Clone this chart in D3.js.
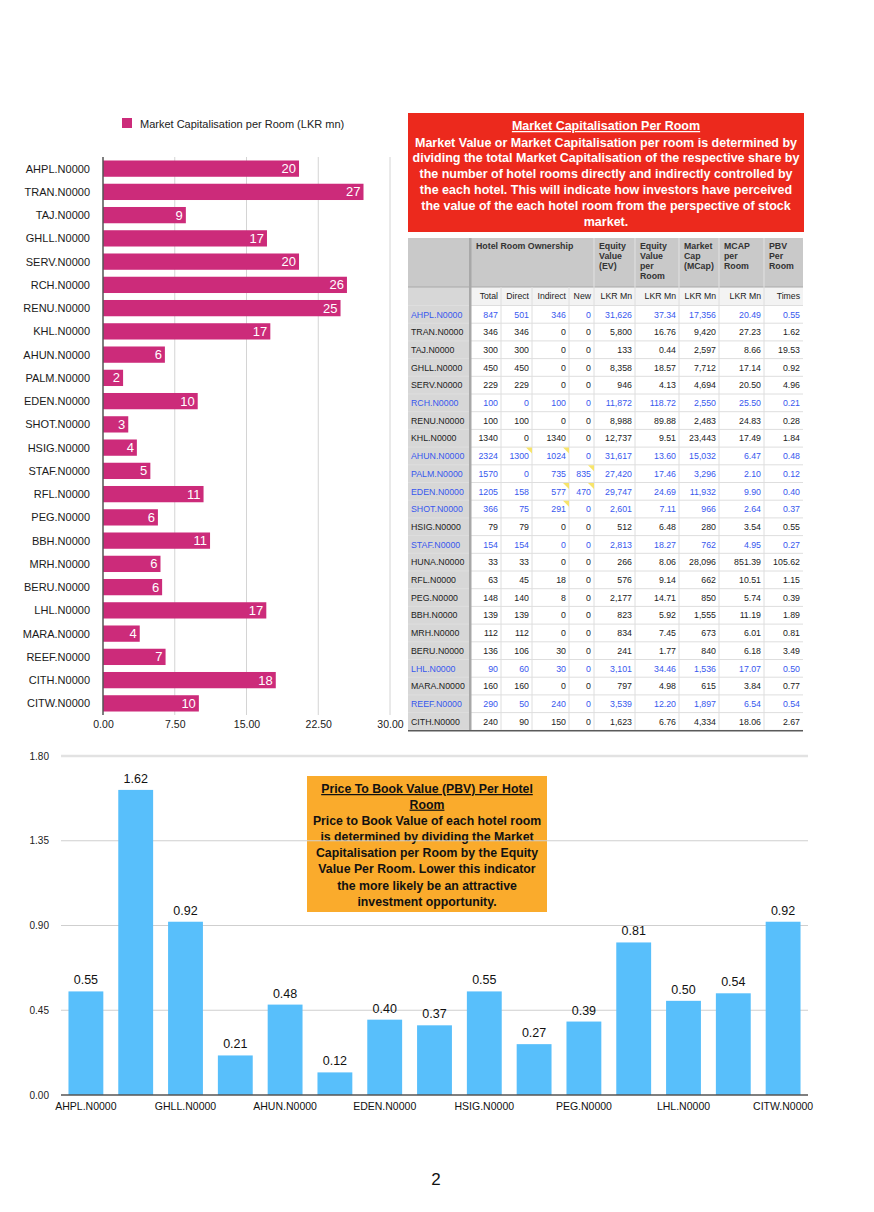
<!DOCTYPE html>
<html><head><meta charset="utf-8">
<script src="https://cdn.jsdelivr.net/npm/d3@7"></script>
<style>
html,body{margin:0;padding:0;background:#fff;}
svg{display:block;font-family:"Liberation Sans",Arial,Helvetica,sans-serif;}
</style></head>
<body>
<svg id="c" width="874" height="1212"></svg>
<script>
// ---------- DATA ----------
const mcapTickers = ["AHPL.N0000","TRAN.N0000","TAJ.N0000","GHLL.N0000","SERV.N0000","RCH.N0000","RENU.N0000","KHL.N0000","AHUN.N0000","PALM.N0000","EDEN.N0000","SHOT.N0000","HSIG.N0000","STAF.N0000","RFL.N0000","PEG.N0000","BBH.N0000","MRH.N0000","BERU.N0000","LHL.N0000","MARA.N0000","REEF.N0000","CITH.N0000","CITW.N0000"];
const mcapValues = [20.49,27.23,8.66,17.14,20.49,25.50,24.83,17.49,6.47,2.10,9.90,2.64,3.54,4.95,10.51,5.74,11.19,6.01,6.18,17.07,3.84,6.54,18.06,10.02];
const mcapTicks = [0,7.5,15,22.5,30];
const mcapLegend = "Market Capitalisation per Room (LKR mn)";

const pbvTickers = ["AHPL.N0000","TRAN.N0000","GHLL.N0000","RCH.N0000","AHUN.N0000","PALM.N0000","EDEN.N0000","SHOT.N0000","HSIG.N0000","STAF.N0000","PEG.N0000","MRH.N0000","LHL.N0000","REEF.N0000","CITW.N0000"];
const pbvValues = [0.55,1.62,0.92,0.21,0.48,0.12,0.40,0.37,0.55,0.27,0.39,0.81,0.50,0.54,0.92];
const pbvTicks = [0,0.45,0.90,1.35,1.80];

const tableTickers = ["AHPL.N0000","TRAN.N0000","TAJ.N0000","GHLL.N0000","SERV.N0000","RCH.N0000","RENU.N0000","KHL.N0000","AHUN.N0000","PALM.N0000","EDEN.N0000","SHOT.N0000","HSIG.N0000","STAF.N0000","HUNA.N0000","RFL.N0000","PEG.N0000","BBH.N0000","MRH.N0000","BERU.N0000","LHL.N0000","MARA.N0000","REEF.N0000","CITH.N0000"];
const totalRooms    = [847,346,300,450,229,100,100,1340,2324,1570,1205,366,79,154,33,63,148,139,112,136,90,160,290,240];
const directRooms   = [501,346,300,450,229,0,100,0,1300,0,158,75,79,154,33,45,140,139,112,106,60,160,50,90];
const indirectRooms = [346,0,0,0,0,100,0,1340,1024,735,577,291,0,0,0,18,8,0,0,30,30,0,240,150];
const newRooms      = [0,0,0,0,0,0,0,0,0,835,470,0,0,0,0,0,0,0,0,0,0,0,0,0];
const equityValue   = [31626,5800,133,8358,946,11872,8988,12737,31617,27420,29747,2601,512,2813,266,576,2177,823,834,241,3101,797,3539,1623];
const evPerRoom     = [37.34,16.76,0.44,18.57,4.13,118.72,89.88,9.51,13.60,17.46,24.69,7.11,6.48,18.27,8.06,9.14,14.71,5.92,7.45,1.77,34.46,4.98,12.20,6.76];
const marketCap     = [17356,9420,2597,7712,4694,2550,2483,23443,15032,3296,11932,966,280,762,28096,662,850,1555,673,840,1536,615,1897,4334];
const mcapPerRoom   = [20.49,27.23,8.66,17.14,20.50,25.50,24.83,17.49,6.47,2.10,9.90,2.64,3.54,4.95,851.39,10.51,5.74,11.19,6.01,6.18,17.07,3.84,6.54,18.06];
const pbvPerRoom    = [0.55,1.62,19.53,0.92,4.96,0.21,0.28,1.84,0.48,0.12,0.40,0.37,0.55,0.27,105.62,1.15,0.39,1.89,0.81,3.49,0.50,0.77,0.54,2.67];
const blueRows      = ["AHPL.N0000","RCH.N0000","AHUN.N0000","PALM.N0000","EDEN.N0000","SHOT.N0000","STAF.N0000","LHL.N0000","REEF.N0000"];
const commentCells  = [["AHUN.N0000",2],["AHUN.N0000",3],["PALM.N0000",4],["EDEN.N0000",3],["EDEN.N0000",4],["SHOT.N0000",3]];
const headerTop   = [["Hotel Room Ownership"],["Equity","Value","(EV)"],["Equity","Value","per","Room"],["Market","Cap","(MCap)"],["MCAP","per","Room"],["PBV","Per","Room"]];
const headerUnits = ["Total","Direct","Indirect","New","LKR Mn","LKR Mn","LKR Mn","LKR Mn","Times"];

const redTitle = "Market Capitalisation Per Room";
const redLines = ["Market Value or Market Capitalisation per room is determined by","dividing the total Market Capitalisation of the respective share by","the number of hotel rooms directly and indirectly controlled by","the each hotel. This will indicate how investors have perceived","the value of the each hotel room from the perspective of stock","market."];
const orangeTitle = ["Price To Book Value (PBV) Per Hotel","Room"];
const orangeLines = ["Price to Book Value of each hotel room","is determined by dividing the Market","Capitalisation per Room by the Equity","Value Per Room. Lower this indicator","the more likely be an attractive","investment opportunity."];
const pageNumber = "2";

// ---------- DRAW ----------
const svg = d3.select("#c");
const MAG = "#cc2b7a", BLUE = "#58bffb", ORANGE = "#faab2c", RED = "#ec291d";

// ===== Top horizontal bar chart =====
const xT = d3.scaleLinear().domain([0,30]).range([103,390]);
const yT = d3.scaleBand().domain(mcapTickers).range([157,715]).paddingInner(0.3).paddingOuter(0.15);
const gT = svg.append("g");
gT.selectAll("line.g").data(mcapTicks.slice(1)).join("line")
  .attr("x1",d=>xT(d)).attr("x2",d=>xT(d)).attr("y1",157).attr("y2",715)
  .attr("stroke","#d4d4d4").attr("stroke-width",1);
gT.selectAll("rect.b").data(mcapValues).join("rect")
  .attr("x",xT(0)).attr("y",(d,i)=>yT(mcapTickers[i]))
  .attr("width",d=>xT(d)-xT(0)).attr("height",yT.bandwidth()).attr("fill",MAG);
gT.selectAll("text.v").data(mcapValues).join("text")
  .attr("x",d=>xT(d)-3).attr("y",(d,i)=>yT(mcapTickers[i])+yT.bandwidth()/2+4.6)
  .attr("text-anchor","end").attr("fill","#fff").attr("font-size",13)
  .text(d=>Math.round(d));
gT.append("line").attr("x1",xT(0)).attr("x2",xT(0)).attr("y1",157).attr("y2",715)
  .attr("stroke","#555").attr("stroke-width",1.5);
gT.selectAll("text.c").data(mcapTickers).join("text")
  .attr("x",90).attr("y",d=>yT(d)+yT.bandwidth()/2+4)
  .attr("text-anchor","end").attr("fill","#1a1a1a").attr("font-size",11).text(d=>d);
const axT = d3.axisBottom(xT).tickValues(mcapTicks).tickFormat(d3.format(".2f")).tickSize(0).tickPadding(0);
const axTG = gT.append("g").attr("transform","translate(0,721)").call(axT);
axTG.select(".domain").remove();
axTG.selectAll("text").attr("font-size",10.5).attr("fill","#1a1a1a").attr("font-family","Liberation Sans, Arial, sans-serif");
gT.append("rect").attr("x",122).attr("y",118).attr("width",10).attr("height",10).attr("fill",MAG);
gT.append("text").attr("x",140).attr("y",128).attr("font-size",11).attr("fill","#222").text(mcapLegend);

// ===== Red description box =====
const gR = svg.append("g");
gR.append("rect").attr("x",408).attr("y",113).attr("width",396).attr("height",119).attr("fill",RED);
gR.append("text").attr("x",606).attr("y",130).attr("text-anchor","middle")
  .attr("fill","#fff").attr("font-size",12.5).attr("font-weight","bold").attr("text-decoration","underline").text(redTitle);
gR.selectAll("text.l").data(redLines).join("text")
  .attr("x",606).attr("y",(d,i)=>146.5+i*15.9).attr("text-anchor","middle")
  .attr("fill","#fff").attr("font-size",12.5).attr("font-weight","bold").text(d=>d);

// ===== Table =====
const gTab = svg.append("g");
const colX = [408,471,501,532,569,594,635,679,719,764,803];
const h1Top = 238, h1Bot = 287, h2Bot = 305.5, rowH = 17.7;
const nRows = tableTickers.length;
const tabBot = h2Bot + nRows*rowH;
gTab.append("rect").attr("x",colX[0]).attr("y",h1Top).attr("width",colX[10]-colX[0]).attr("height",h1Bot-h1Top).attr("fill","#c9c9c9");
gTab.append("rect").attr("x",colX[1]).attr("y",h1Bot).attr("width",colX[10]-colX[1]).attr("height",h2Bot-h1Bot).attr("fill","#f3f3f3");
gTab.append("rect").attr("x",colX[0]).attr("y",h1Bot).attr("width",colX[1]-colX[0]).attr("height",tabBot-h1Bot).attr("fill","#d7d7d7");
gTab.append("rect").attr("x",colX[1]).attr("y",h2Bot).attr("width",colX[10]-colX[1]).attr("height",tabBot-h2Bot).attr("fill","#fff");
const rowsY = d3.range(nRows+1).map(i=>h2Bot+i*rowH);
gTab.selectAll("line.h").data(rowsY).join("line")
  .attr("x1",colX[0]).attr("x2",colX[10]).attr("y1",d=>d).attr("y2",d=>d)
  .attr("stroke","#dedede").attr("stroke-width",1);
gTab.append("line").attr("x1",colX[0]).attr("x2",colX[10]).attr("y1",h1Bot).attr("y2",h1Bot).attr("stroke","#a9a9a9").attr("stroke-width",1.2);
gTab.selectAll("line.v").data(colX.slice(2,10)).join("line")
  .attr("x1",d=>d).attr("x2",d=>d).attr("y1",h1Bot).attr("y2",tabBot)
  .attr("stroke","#dedede").attr("stroke-width",1);
gTab.selectAll("line.v2").data(colX.slice(5,10)).join("line")
  .attr("x1",d=>d).attr("x2",d=>d).attr("y1",h1Top).attr("y2",h1Bot)
  .attr("stroke","#e2e2e2").attr("stroke-width",1);
gTab.append("rect").attr("x",colX[1]-2).attr("y",h1Top).attr("width",2.5).attr("height",tabBot-h1Top).attr("fill","#a8a8a8");
gTab.append("line").attr("x1",colX[0]).attr("x2",colX[10]).attr("y1",tabBot+0.5).attr("y2",tabBot+0.5).attr("stroke","#5a5a5a").attr("stroke-width",1.6);
const hdrCols = [1,5,6,7,8,9];
headerTop.forEach((lines,k)=>{
  const t = gTab.append("text").attr("font-size",8.8).attr("font-weight","bold").attr("fill","#333");
  lines.forEach((s,j)=>t.append("tspan").attr("x",colX[hdrCols[k]]+5).attr("y",h1Top+11+j*10).text(s));
});
headerUnits.forEach((s,k)=>{
  gTab.append("text").attr("x",colX[k+2]-3).attr("y",(h1Bot+h2Bot)/2+3.2).attr("text-anchor","end")
    .attr("font-size",8.7).attr("fill","#222").text(s);
});
const fInt = d3.format(","), f2 = d3.format(".2f");
const cols = [totalRooms,directRooms,indirectRooms,newRooms,equityValue,evPerRoom,marketCap,mcapPerRoom,pbvPerRoom];
const fmts = [String,String,String,String,fInt,f2,fInt,f2,f2];
tableTickers.forEach((tk,i)=>{
  const cy = h2Bot + i*rowH + rowH/2 + 3.2;
  const col = blueRows.includes(tk) ? "#3858ee" : "#222";
  gTab.append("text").attr("x",colX[0]+3).attr("y",cy).attr("font-size",8.8).attr("fill",col).text(tk);
  cols.forEach((arr,k)=>{
    gTab.append("text").attr("x",colX[k+2]-3).attr("y",cy).attr("text-anchor","end")
      .attr("font-size",8.8).attr("fill",col).text(fmts[k](arr[i]));
  });
});
commentCells.forEach(([tk,c])=>{
  const i = tableTickers.indexOf(tk);
  const xr = colX[c+1], yt = h2Bot + i*rowH + 0.5;
  gTab.append("path").attr("d",`M${xr-6},${yt}L${xr},${yt}L${xr},${yt+6}Z`).attr("fill","#f7e46a");
});

// ===== Bottom vertical bar chart =====
const yB = d3.scaleLinear().domain([0,1.8]).range([1095,756]);
const xB = d3.scaleBand().domain(pbvTickers).range([61,808]).paddingInner(0.3).paddingOuter(0.15);
const gB = svg.append("g");
gB.append("rect").attr("x",307).attr("y",776).attr("width",240).attr("height",136).attr("fill",ORANGE);
orangeTitle.forEach((s,j)=>{
  gB.append("text").attr("x",427).attr("y",793+j*15.6).attr("text-anchor","middle")
    .attr("font-size",12.3).attr("font-weight","bold").attr("fill","#111").attr("text-decoration","underline").text(s);
});
gB.selectAll("text.o").data(orangeLines).join("text")
  .attr("x",427).attr("y",(d,i)=>824.5+i*16.3).attr("text-anchor","middle")
  .attr("font-size",12.3).attr("font-weight","bold").attr("fill","#111").text(d=>d);
gB.selectAll("line.g").data(pbvTicks.slice(1)).join("line")
  .attr("x1",61).attr("x2",808).attr("y1",d=>yB(d)).attr("y2",d=>yB(d))
  .attr("stroke",(d,i)=>i===3?"#e2e2e2":"#cfcfcf").attr("stroke-width",(d,i)=>i===3?2.5:1);
gB.selectAll("rect.b").data(pbvValues).join("rect")
  .attr("x",(d,i)=>xB(pbvTickers[i])).attr("y",d=>yB(d))
  .attr("width",xB.bandwidth()).attr("height",d=>yB(0)-yB(d)).attr("fill",BLUE);
gB.selectAll("text.v").data(pbvValues).join("text")
  .attr("x",(d,i)=>xB(pbvTickers[i])+xB.bandwidth()/2).attr("y",d=>yB(d)-7)
  .attr("text-anchor","middle").attr("font-size",12.5).attr("fill","#111").text(d=>f2(d));
gB.append("line").attr("x1",61).attr("x2",808).attr("y1",yB(0)).attr("y2",yB(0)).attr("stroke","#555").attr("stroke-width",1.5);
const axYB = d3.axisLeft(yB).tickValues(pbvTicks).tickFormat(f2).tickSize(0).tickPadding(0);
const axYBG = gB.append("g").attr("transform","translate(49,0)").call(axYB);
axYBG.select(".domain").remove();
axYBG.selectAll("text").attr("font-size",10).attr("fill","#222").attr("font-family","Liberation Sans, Arial, sans-serif");
const axXB = d3.axisBottom(xB).tickValues(pbvTickers.filter((d,i)=>i%2===0)).tickSize(0).tickPadding(0);
const axXBG = gB.append("g").attr("transform","translate(0,1103)").call(axXB);
axXBG.select(".domain").remove();
axXBG.selectAll("text").attr("font-size",10.5).attr("fill","#111").attr("font-family","Liberation Sans, Arial, sans-serif");

svg.append("text").attr("x",436).attr("y",1185).attr("text-anchor","middle").attr("font-size",17).attr("fill","#111").text(pageNumber);
</script>
</body></html>
